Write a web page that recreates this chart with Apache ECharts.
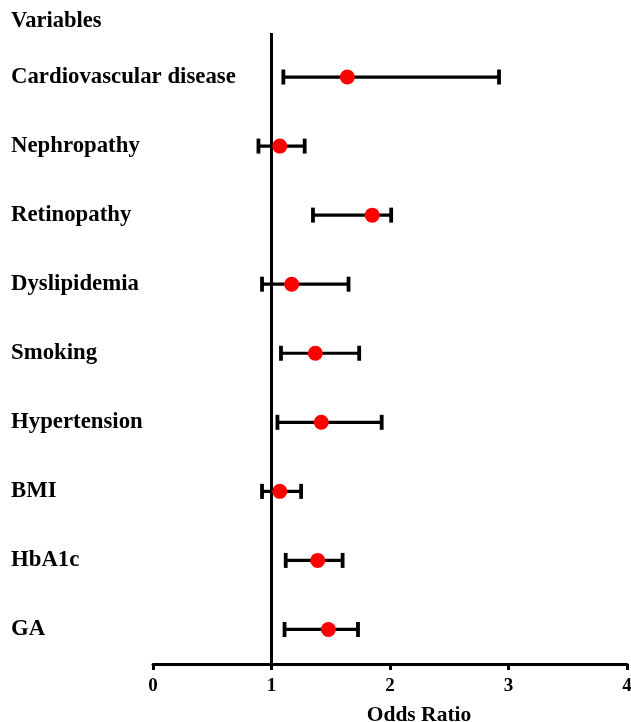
<!DOCTYPE html>
<html>
<head>
<meta charset="utf-8">
<script src="https://cdn.jsdelivr.net/npm/echarts@6/dist/echarts.min.js"></script>
<style>
  html, body { margin: 0; padding: 0; background: #fff; }
  #main { width: 631px; height: 722px; }
</style>
</head>
<body>
<div id="main"></div>
<script>
// 数据
var variables = ['Cardiovascular disease', 'Nephropathy', 'Retinopathy', 'Dyslipidemia',
  'Smoking', 'Hypertension', 'BMI', 'HbA1c', 'GA'];
var oddsRatio = [1.64, 1.07, 1.85, 1.17, 1.37, 1.42, 1.07, 1.39, 1.48];
var lowerCI   = [1.10, 0.89, 1.35, 0.92, 1.08, 1.05, 0.92, 1.12, 1.11];
var upperCI   = [2.92, 1.28, 2.01, 1.65, 1.74, 1.93, 1.25, 1.60, 1.73];
var xTicks = [0, 1, 2, 3, 4];
var refValue = [1];

var fontFam = '"Liberation Serif", "Times New Roman", serif';

var errData = [];
for (var i = 0; i < variables.length; i++) {
  errData.push([lowerCI[i], upperCI[i], i]);
}
var ptData = [];
for (var j = 0; j < variables.length; j++) {
  ptData.push([oddsRatio[j], j]);
}

// 误差线
function renderErr(params, api) {
  var lo = api.coord([api.value(0), api.value(2)]);
  var hi = api.coord([api.value(1), api.value(2)]);
  var cap = 7.5;
  var st = { stroke: '#000', lineWidth: 3.2 };
  var stCap = { stroke: '#000', lineWidth: 3.8 };
  return {
    type: 'group',
    children: [
      { type: 'line', shape: { x1: lo[0], y1: lo[1], x2: hi[0], y2: hi[1] }, style: st },
      { type: 'line', shape: { x1: lo[0], y1: lo[1] - cap, x2: lo[0], y2: lo[1] + cap }, style: stCap },
      { type: 'line', shape: { x1: hi[0], y1: hi[1] - cap, x2: hi[0], y2: hi[1] + cap }, style: stCap }
    ]
  };
}

// OR=1 参考线
function renderRef(params, api) {
  var cs = params.coordSys;
  var p = api.coord([api.value(0), 0]);
  return {
    type: 'line',
    shape: { x1: p[0], y1: cs.y - 9.5, x2: p[0], y2: cs.y + cs.height },
    style: { stroke: '#000', lineWidth: 3 }
  };
}

var myChart = echarts.init(document.getElementById('main'), null, { renderer: 'canvas' });
var option = {
  backgroundColor: '#fff',
  animation: false,
  title: {
    text: 'Variables',
    left: 11,
    top: 10,
    padding: 0,
    textStyle: { fontFamily: fontFam, fontWeight: 'bold', fontSize: 22.5, color: '#000' }
  },
  grid: { left: 153, right: 4, top: 42.5, bottom: 58, outerBoundsMode: 'none' },
  xAxis: {
    type: 'value',
    min: xTicks[0],
    max: xTicks[xTicks.length - 1],
    interval: 1,
    name: 'Odds Ratio',
    nameLocation: 'middle',
    nameGap: 40,
    nameTextStyle: { fontFamily: fontFam, fontWeight: 'bold', fontSize: 21.5, color: '#000', padding: [0, 0, 0, 58] },
    axisLine: { show: true, lineStyle: { color: '#000', width: 3 } },
    axisTick: { show: true, length: 6, lineStyle: { color: '#000', width: 3 } },
    axisLabel: { fontFamily: fontFam, fontWeight: 'bold', fontSize: 19, color: '#000', margin: 13 },
    splitLine: { show: false }
  },
  yAxis: {
    type: 'category',
    data: variables,
    inverse: true,
    axisLine: { show: false },
    axisTick: { show: false },
    axisLabel: {
      fontFamily: fontFam, fontWeight: 'bold', fontSize: 22.8, color: '#000',
      align: 'left', margin: 142
    },
    splitLine: { show: false }
  },
  series: [
    {
      type: 'custom',
      renderItem: renderRef,
      data: refValue.map(function (v) { return [v]; }),
      encode: { x: 0 },
      z: 1
    },
    {
      type: 'custom',
      renderItem: renderErr,
      data: errData,
      encode: { x: [0, 1], y: 2 },
      z: 2
    },
    {
      type: 'scatter',
      data: ptData,
      symbol: 'circle',
      symbolSize: 15,
      itemStyle: { color: '#ff0000', opacity: 1 },
      z: 3
    }
  ]
};
myChart.setOption(option);
</script>
</body>
</html>
